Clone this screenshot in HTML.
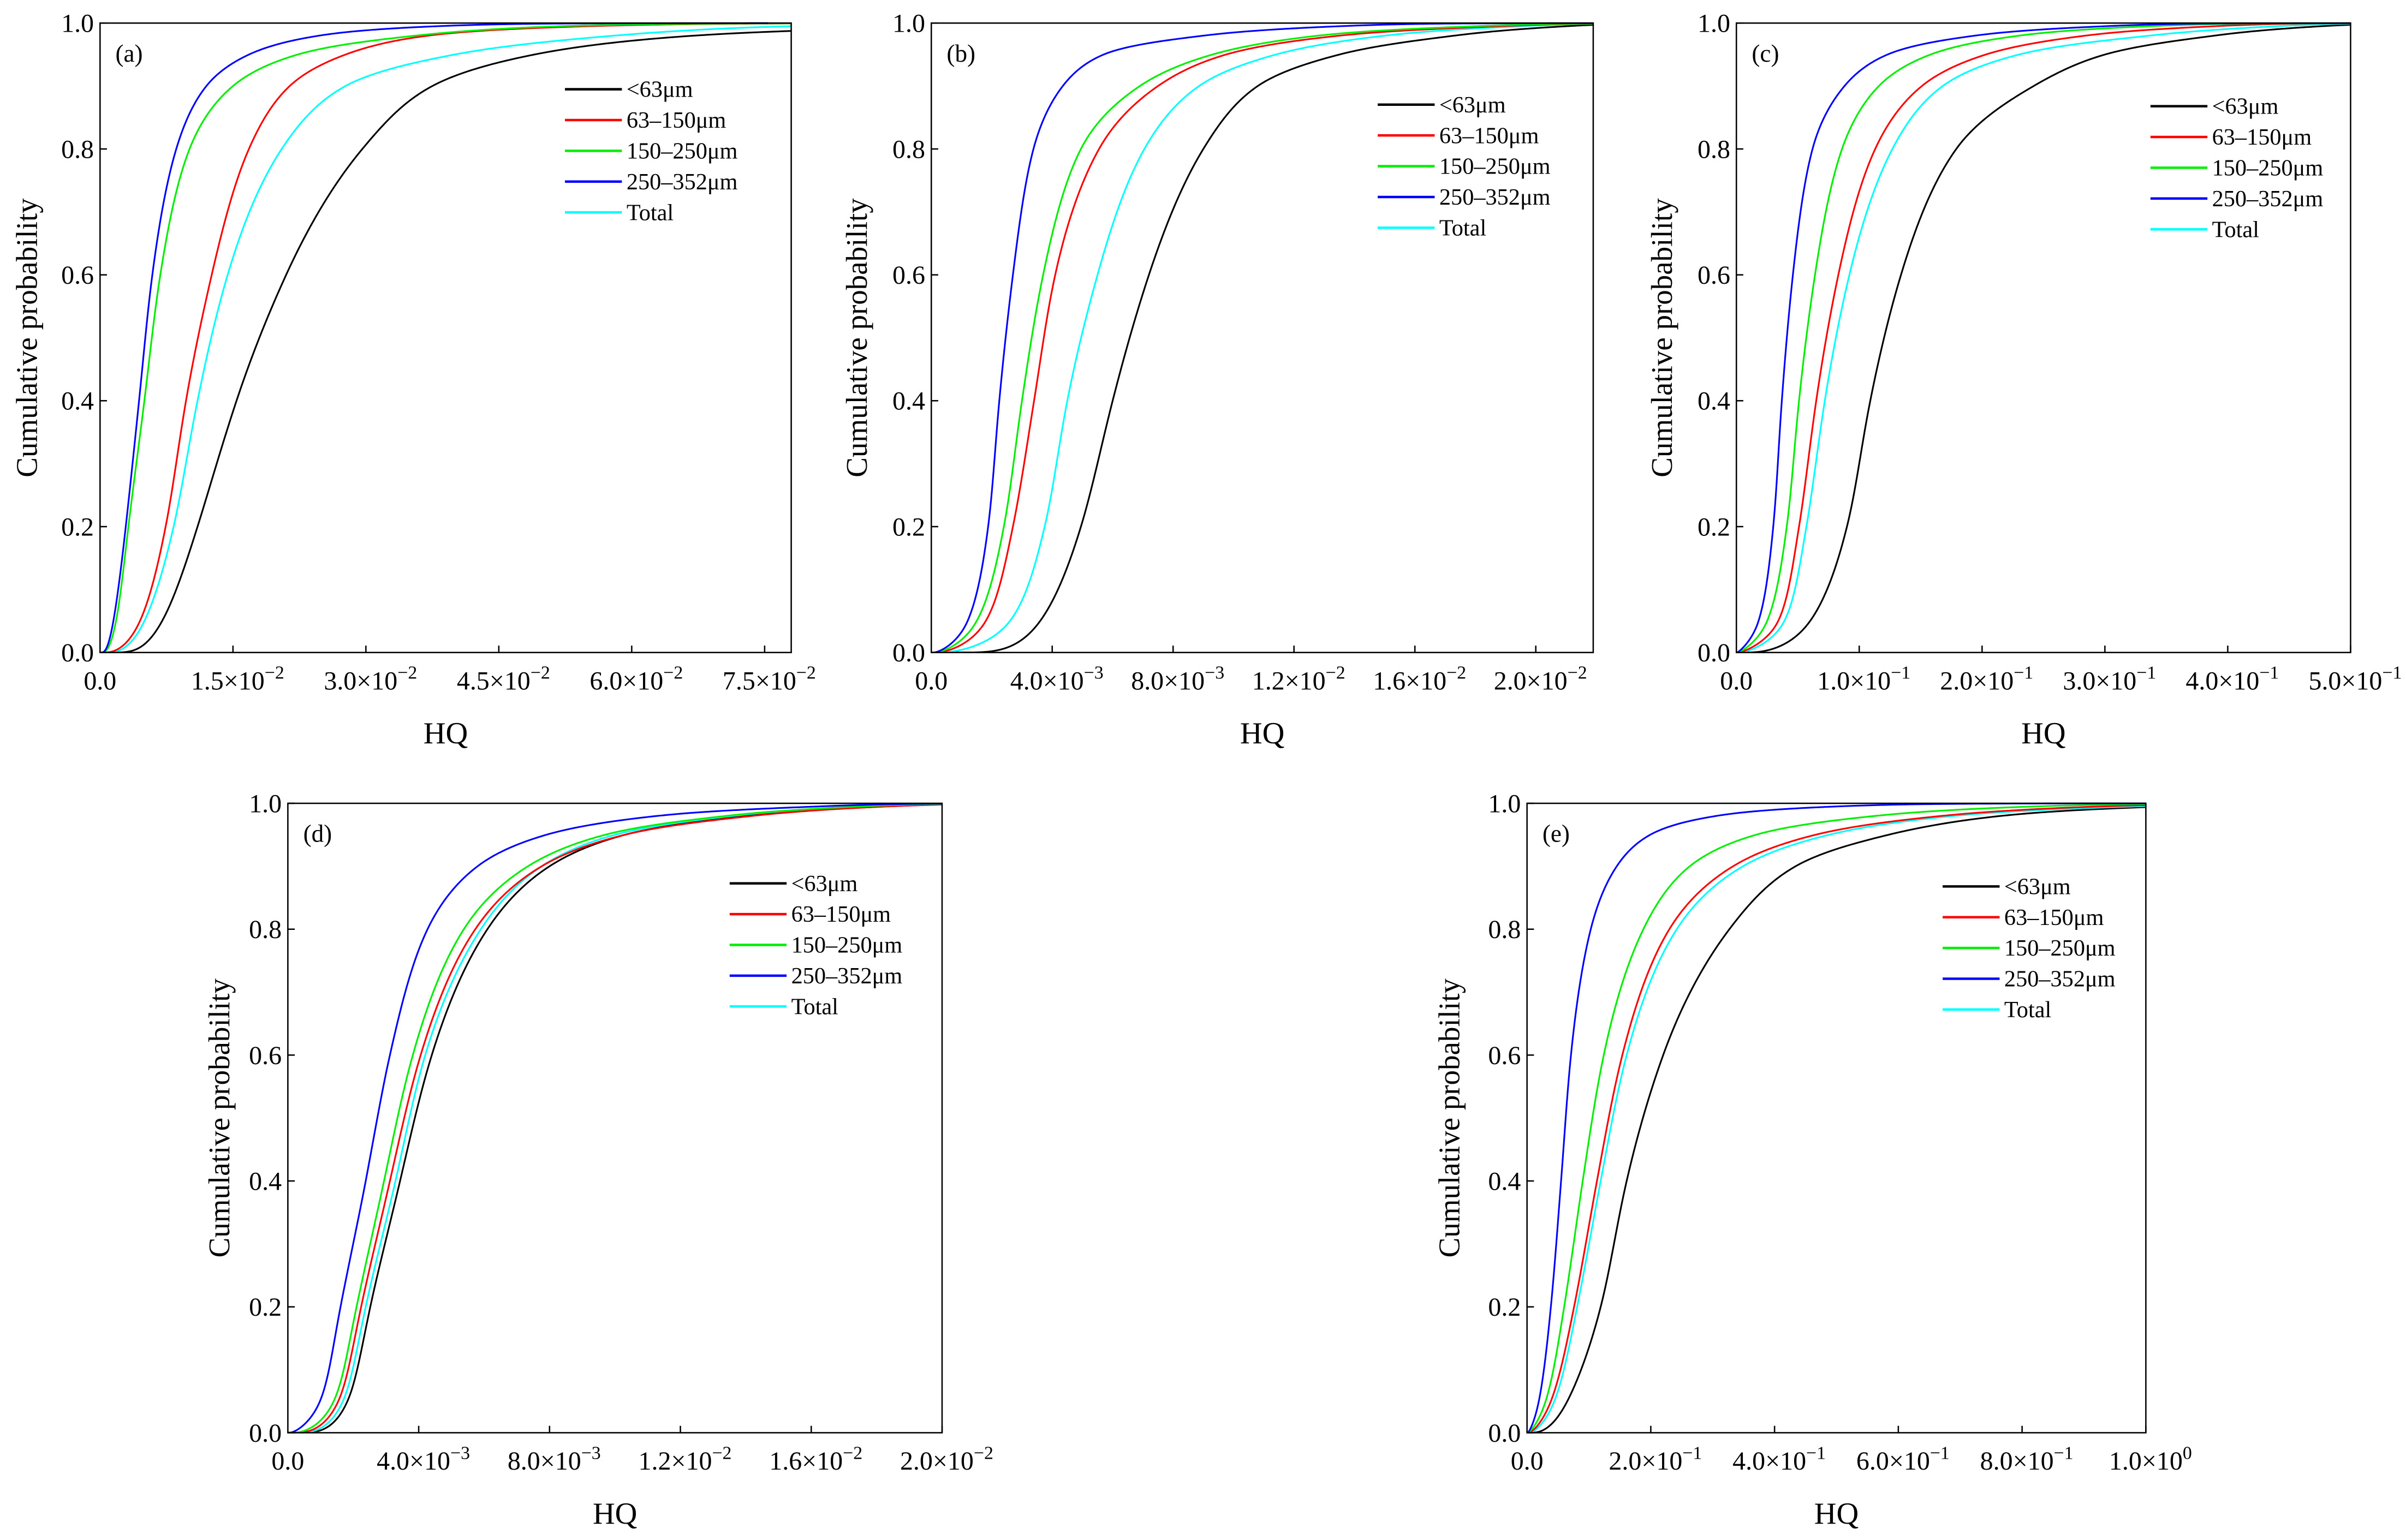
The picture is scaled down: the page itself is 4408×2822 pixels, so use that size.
<!DOCTYPE html>
<html><head><meta charset="utf-8"><style>
html,body{margin:0;padding:0;background:#fff;}
svg{display:block;}
text{font-family:"Liberation Serif",serif;fill:#000;}
</style></head><body>
<svg id="fig" width="4408" height="2822" viewBox="0 0 1563 1000.7" preserveAspectRatio="none" xmlns="http://www.w3.org/2000/svg"></svg>
<script>
// Cumulative probability levels (shared)
const probs = [0.001, 0.05, 0.2, 0.4, 0.6, 0.8, 0.9, 0.95, 0.98, 0.995, 0.9995];
const seriesNames = ["<63μm", "63–150μm", "150–250μm", "250–352μm", "Total"];
const seriesColors = ["#000000", "#ff0000", "#00ee00", "#0000ff", "#00ffff"];
// HQ values (in panel units) at each probability level, per series [black, red, green, blue, cyan]
const hqA = [
  [0.3, 0.7, 1.1, 1.54, 2.1, 2.96, 3.75, 4.9, 6.7, 10, 14],
  [0.12, 0.45, 0.74, 0.97, 1.26, 1.68, 2.14, 2.77, 3.7, 5.5, 8],
  [0.05, 0.18, 0.32, 0.5, 0.68, 1.01, 1.5, 2.23, 3.56, 5.2, 7.5],
  [0.04, 0.15, 0.29, 0.44, 0.59, 0.86, 1.2, 1.68, 2.47, 3.8, 5.5],
  [0.16, 0.5, 0.83, 1.1, 1.44, 2.05, 2.77, 4.0, 5.8, 7.8, 11]
];
const hqB = [
  [1.8, 3.6, 4.95, 6.0, 7.2, 9.0, 10.8, 13.5, 17.3, 21, 24],
  [0.35, 1.8, 2.7, 3.4, 4.1, 5.55, 7.5, 9.75, 13.5, 18.8, 23],
  [0.25, 1.5, 2.4, 3.0, 3.7, 4.95, 6.9, 9.3, 12.8, 18, 22.5],
  [0.18, 1.2, 1.88, 2.25, 2.7, 3.38, 4.35, 5.7, 9, 13.5, 18],
  [0.6, 2.6, 3.75, 4.5, 5.5, 7.05, 8.86, 11.4, 15, 19.5, 23]
];
const hqC = [
  [1.8, 6.0, 9.0, 10.9, 13.4, 17.9, 24.2, 30, 38.9, 47.6, 55],
  [0.4, 3.4, 5.1, 6.5, 8.3, 11.3, 15.1, 20.3, 28.4, 38.9, 48],
  [0.25, 2.5, 4.1, 5.1, 6.4, 8.6, 11.6, 15.8, 23, 33.6, 44],
  [0.15, 1.8, 3.0, 3.7, 4.6, 6.2, 8.8, 12.3, 19.4, 30, 40],
  [0.6, 3.9, 5.7, 7.2, 9.2, 12.7, 16.8, 23, 33.6, 44, 52]
];
const hqD = [
  [0.77, 1.82, 2.52, 3.43, 4.4, 6.1, 8.0, 10.3, 14, 18.3, 22],
  [0.5, 1.54, 2.24, 3.12, 4.06, 5.73, 7.76, 10.3, 14.2, 18.3, 22],
  [0.35, 1.4, 2.1, 2.94, 3.82, 5.38, 7.34, 9.7, 13.4, 17.5, 21],
  [0.14, 0.98, 1.61, 2.38, 3.12, 4.27, 5.8, 7.9, 11.3, 16.2, 20],
  [0.63, 1.68, 2.38, 3.29, 4.2, 5.9, 7.76, 10, 13.6, 17.5, 21]
];
const hqE = [
  [0.17, 0.65, 1.19, 1.61, 2.2, 3.27, 4.34, 5.84, 7.66, 10.3, 13],
  [0.05, 0.385, 0.76, 1.13, 1.54, 2.3, 3.33, 4.66, 6.7, 9.26, 12],
  [0.03, 0.3, 0.6, 0.9, 1.24, 1.88, 2.63, 3.7, 5.63, 8.2, 11],
  [0.02, 0.19, 0.385, 0.55, 0.71, 1.03, 1.45, 1.99, 3.06, 5.0, 7.5],
  [0.07, 0.44, 0.81, 1.19, 1.61, 2.42, 3.49, 4.88, 6.9, 9.8, 12.5]
];
const yTicks = [0, 0.2, 0.4, 0.6, 0.8, 1.0];
const yTickLabels = ["0.0", "0.2", "0.4", "0.6", "0.8", "1.0"];
const xTicksA = [0, 1.5, 3.0, 4.5, 6.0, 7.5];
const xLabelsA = [["0.0",""],["1.5×10","−2"],["3.0×10","−2"],["4.5×10","−2"],["6.0×10","−2"],["7.5×10","−2"]];
const xTicksB = [0, 4, 8, 12, 16, 20];
const xLabelsB = [["0.0",""],["4.0×10","−3"],["8.0×10","−3"],["1.2×10","−2"],["1.6×10","−2"],["2.0×10","−2"]];
const xTicksC = [0, 10, 20, 30, 40, 50];
const xLabelsC = [["0.0",""],["1.0×10","−1"],["2.0×10","−1"],["3.0×10","−1"],["4.0×10","−1"],["5.0×10","−1"]];
const xTicksD = [0, 4, 8, 12, 16, 20];
const xLabelsD = [["0.0",""],["4.0×10","−3"],["8.0×10","−3"],["1.2×10","−2"],["1.6×10","−2"],["2.0×10","−2"]];
const xTicksE = [0, 2, 4, 6, 8, 10];
const xLabelsE = [["0.0",""],["2.0×10","−1"],["4.0×10","−1"],["6.0×10","−1"],["8.0×10","−1"],["1.0×10","0"]];

const NS = "http://www.w3.org/2000/svg";
const svg = document.getElementById("fig");
function mk(tag, attrs, parent) {
  const e = document.createElementNS(NS, tag);
  for (const k in attrs) e.setAttribute(k, attrs[k]);
  (parent || svg).appendChild(e);
  return e;
}
// inverse normal CDF (Acklam)
function probit(p) {
  const a=[-39.6968302866538,220.946098424521,-275.928510446969,138.357751867269,-30.6647980661472,2.50662827745924];
  const b=[-54.4760987982241,161.585836858041,-155.698979859887,66.8013118877197,-13.2806815528857];
  const c=[-0.00778489400243029,-0.322396458041136,-2.40075827716184,-2.54973253934373,4.37466414146497,2.93816398269878];
  const d=[0.00778469570904146,0.32246712907004,2.445134137143,3.75440866190742];
  const pl=0.02425;
  if (p < pl) { const q=Math.sqrt(-2*Math.log(p)); return (((((c[0]*q+c[1])*q+c[2])*q+c[3])*q+c[4])*q+c[5])/((((d[0]*q+d[1])*q+d[2])*q+d[3])*q+1); }
  if (p > 1-pl) { const q=Math.sqrt(-2*Math.log(1-p)); return -(((((c[0]*q+c[1])*q+c[2])*q+c[3])*q+c[4])*q+c[5])/((((d[0]*q+d[1])*q+d[2])*q+d[3])*q+1); }
  const q=p-0.5, r=q*q;
  return (((((a[0]*r+a[1])*r+a[2])*r+a[3])*r+a[4])*r+a[5])*q/(((((b[0]*r+b[1])*r+b[2])*r+b[3])*r+b[4])*r+1);
}
function ncdf(z) {
  const t=1/(1+0.2316419*Math.abs(z));
  const y=t*(0.319381530+t*(-0.356563782+t*(1.781477937+t*(-1.821255978+t*1.330274429))));
  const v=1-Math.exp(-z*z/2)/Math.sqrt(2*Math.PI)*y;
  return z>=0? v : 1-v;
}
// monotone cubic interpolation
function monotone(xs, ys) {
  const n = xs.length, d = [], m = [];
  for (let i = 0; i < n - 1; i++) d.push((ys[i+1]-ys[i]) / Math.max(xs[i+1]-xs[i], 1e-9));
  m[0] = d[0]; m[n-1] = d[n-2];
  for (let i = 1; i < n - 1; i++) m[i] = (d[i-1]*d[i] <= 0) ? 0 : 2/(1/d[i-1]+1/d[i]);
  for (let i = 0; i < n - 1; i++) {
    if (d[i] === 0) { m[i] = 0; m[i+1] = 0; continue; }
    const a = m[i]/d[i], b = m[i+1]/d[i], s = a*a+b*b;
    if (s > 9) { const t = 3/Math.sqrt(s); m[i] = t*a*d[i]; m[i+1] = t*b*d[i]; }
  }
  return function(x) {
    if (x <= xs[0]) return ys[0] + m[0]*(x-xs[0]);
    if (x >= xs[n-1]) return ys[n-1] + m[n-1]*(x-xs[n-1]);
    let i = 0; while (x > xs[i+1]) i++;
    const h = xs[i+1]-xs[i], t = (x-xs[i])/h, t2=t*t, t3=t2*t;
    return (2*t3-3*t2+1)*ys[i] + (t3-2*t2+t)*h*m[i] + (-2*t3+3*t2)*ys[i+1] + (t3-t2)*h*m[i+1];
  };
}
const zs = probs.map(probit);

function panel(cfg) {
  const g = mk("g", {});
  
  
  const {x0, x1, y0, y1, xmax} = cfg;
  const sx = v => x0 + v / xmax * (x1 - x0);
  const sy = v => y1 - v * (y1 - y0);
  const clipId = "clip" + cfg.id;
  const cp = mk("clipPath", {id: clipId}, g);
  mk("rect", {x: x0, y: y0 - 1, width: x1 - x0, height: y1 - y0 + 1}, cp);
  const cg = mk("g", {"clip-path": "url(#" + clipId + ")"}, g);
  const order = [0, 4, 1, 2, 3];
  order.forEach(si => {
    const lx = cfg.data[si].map(v => Math.log(v));
    const f = monotone(zs, lx);
    let d = "M" + sx(0).toFixed(2) + "," + sy(0).toFixed(2);
    const N = 700, zA = -3.8, zB = 3.9;
    for (let k = 0; k <= N; k++) {
      const z = zA + (zB - zA) * k / N;
      const xv = Math.exp(f(z));
      d += "L" + sx(xv).toFixed(2) + "," + sy(ncdf(z)).toFixed(2);
    }
    const p = mk("path", {d: d, fill: "none", stroke: seriesColors[si], "stroke-width": 1.1, "stroke-linejoin": "round"}, cg);
    
    
  });
  const fr = mk("rect", {x: x0, y: y0, width: x1 - x0, height: y1 - y0, fill: "none", stroke: "#000", "stroke-width": 0.9}, g);
  
  
  yTicks.forEach((v, i) => {
    mk("line", {x1: x0, x2: x0 + 4.5, y1: sy(v), y2: sy(v), stroke: "#000", "stroke-width": 0.9}, g);
    const t = mk("text", {x: x0 - 4, y: sy(v) + 5.8, "font-size": 17, "text-anchor": "end"}, g);
    t.textContent = yTickLabels[i];
    
    
  });
  cfg.xt.forEach((v, i) => {
    if (i > 0) mk("line", {x1: sx(v), x2: sx(v), y1: y1, y2: y1 - 4.5, stroke: "#000", "stroke-width": 0.9}, g);
    const t = mk("text", {x: sx(v) + (i > 0 ? 3 : 0), y: y1 + 24, "font-size": 17, "text-anchor": "middle"}, g);
    
    
    const a = mk("tspan", {}, t); a.textContent = cfg.xl[i][0];
    if (cfg.xl[i][1]) { const b = mk("tspan", {dy: -7, "font-size": 12}, t); b.textContent = cfg.xl[i][1]; }
  });
  const xt = mk("text", {x: (x0 + x1) / 2, y: y1 + 59, "font-size": 20, "text-anchor": "middle"}, g);
  xt.textContent = "HQ";
  
  
  const yx = cfg.ytx, ym = (y0 + y1) / 2;
  const yt = mk("text", {x: yx, y: ym, "font-size": 19.5, "text-anchor": "middle", transform: "rotate(-90 " + yx + " " + ym + ")"}, g);
  yt.textContent = "Cumulative probability";
  
  
  const pl = mk("text", {x: x0 + 10, y: y0 + 25, "font-size": 16}, g);
  pl.textContent = "(" + cfg.id + ")";
  
  
  const lg = mk("g", {}, g);
  
  
  seriesNames.forEach((nm, i) => {
    const yy = cfg.ly + i * 20;
    mk("line", {x1: cfg.lx, x2: cfg.lx + 37, y1: yy, y2: yy, stroke: seriesColors[i], "stroke-width": 1.6}, lg);
    const t = mk("text", {x: cfg.lx + 40, y: yy + 5, "font-size": 15}, lg);
    t.textContent = nm;
    
    
  });
}

panel({id: "a", x0: 65, x1: 514, y0: 15, y1: 424, xmax: 7.8, xt: xTicksA, xl: xLabelsA, data: hqA, ytx: 24, lx: 367, ly: 58});
panel({id: "b", x0: 605, x1: 1035, y0: 15, y1: 424, xmax: 21.9, xt: xTicksB, xl: xLabelsB, data: hqB, ytx: 563, lx: 895, ly: 68});
panel({id: "c", x0: 1128, x1: 1527, y0: 15, y1: 424, xmax: 50, xt: xTicksC, xl: xLabelsC, data: hqC, ytx: 1086, lx: 1397, ly: 69});
panel({id: "d", x0: 187, x1: 612, y0: 522, y1: 931, xmax: 20, xt: xTicksD, xl: xLabelsD, data: hqD, ytx: 149, lx: 474, ly: 574});
panel({id: "e", x0: 992, x1: 1394, y0: 522, y1: 931, xmax: 10, xt: xTicksE, xl: xLabelsE, data: hqE, ytx: 948, lx: 1262, ly: 576});
</script>
</body></html>
